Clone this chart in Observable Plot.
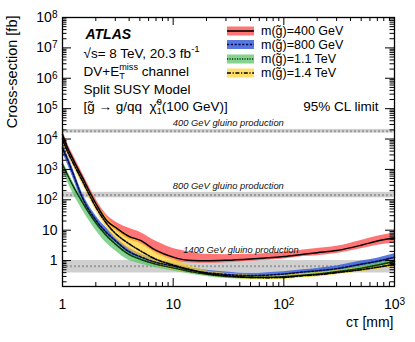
<!DOCTYPE html>
<html><head><meta charset="utf-8">
<script src="https://cdn.jsdelivr.net/npm/d3@7"></script>
<script src="https://cdn.jsdelivr.net/npm/@observablehq/plot@0.6"></script>
<style>body{margin:0;background:#fff} svg{display:block}</style>
</head><body><div id="chart"></div>
<script>
// ---- data ----
const ctValues = [1, 1.1, 1.25, 1.5, 2, 2.5, 3, 4, 5, 7, 10, 15, 20, 30, 50, 70, 100, 150, 200, 300, 500, 700, 1000];

const m400   = [14000, 5600, 2100, 575, 76, 21, 12.5, 6.2, 4.7, 2.15, 1.3, 1.0, 0.98, 1.02, 1.13, 1.23, 1.35, 1.62, 1.82, 2.14, 3.2, 4.4, 5.5];
const m400hi = [20000, 7900, 3000, 810, 107, 32, 19, 11.5, 8.6, 4.3, 2.5, 1.85, 1.6, 1.55, 1.6, 1.7, 1.86, 2.24, 2.5, 2.95, 4.6, 6.3, 7.9];
const m400lo = [10000, 4000, 1600, 460, 60, 17, 10, 4.9, 3.7, 1.7, 1.03, 0.83, 0.81, 0.85, 0.94, 1.02, 1.12, 1.35, 1.45, 1.7, 2.45, 3.2, 3.8];

const m800   = [5000, 2300, 710, 126, 21.4, 8.3, 4.5, 1.95, 1.35, 0.87, 0.66, 0.47, 0.40, 0.35, 0.32, 0.33, 0.36, 0.42, 0.46, 0.54, 0.76, 0.95, 1.29];
const m800hi = [7000, 3250, 1000, 178, 30, 11.7, 6.0, 2.6, 1.7, 1.1, 0.79, 0.56, 0.48, 0.42, 0.38, 0.40, 0.43, 0.50, 0.55, 0.66, 0.96, 1.2, 1.66];
const m800lo = [3550, 1630, 500, 89, 15, 5.9, 3.4, 1.47, 1.07, 0.69, 0.55, 0.39, 0.33, 0.29, 0.27, 0.27, 0.30, 0.35, 0.38, 0.44, 0.60, 0.75, 1.0];

const m1100   = [1450, 710, 280, 87, 17.8, 6.6, 3.5, 1.58, 1.12, 0.76, 0.575, 0.42, 0.355, 0.30, 0.28, 0.28, 0.295, 0.33, 0.36, 0.43, 0.56, 0.71, 0.93];
const m1100hi = [1910, 940, 370, 115, 23.5, 8.7, 4.6, 1.99, 1.41, 0.96, 0.69, 0.49, 0.42, 0.35, 0.33, 0.33, 0.35, 0.39, 0.42, 0.505, 0.67, 0.85, 1.12];
const m1100lo = [915, 427, 157, 49, 10, 3.7, 2.1, 1.0, 0.79, 0.58, 0.456, 0.35, 0.30, 0.255, 0.24, 0.24, 0.25, 0.28, 0.31, 0.365, 0.47, 0.59, 0.78];

const m1400   = [10000, 4200, 1600, 440, 57.5, 16.6, 7.9, 3.55, 2.14, 1.1, 0.71, 0.48, 0.38, 0.32, 0.28, 0.275, 0.28, 0.32, 0.34, 0.40, 0.50, 0.60, 0.76];
const m1400hi = [13200, 5500, 2100, 620, 87, 27.5, 14, 6.8, 4.1, 1.96, 1.12, 0.63, 0.46, 0.38, 0.33, 0.32, 0.33, 0.38, 0.40, 0.47, 0.59, 0.70, 0.91];
const m1400lo = [7600, 3200, 1200, 335, 43.5, 11.7, 5.2, 2.24, 1.35, 0.69, 0.50, 0.38, 0.32, 0.27, 0.24, 0.235, 0.24, 0.27, 0.29, 0.34, 0.43, 0.51, 0.63];

const seriesNames  = ["400", "800", "1100", "1400"];
const seriesLabels = ["m(g\u0303)=400 GeV", "m(g\u0303)=800 GeV", "m(g\u0303)=1.1 TeV", "m(g\u0303)=1.4 TeV"];

// gluino production cross-sections (grey bands)
const prodLabels = ["400 GeV gluino production", "800 GeV gluino production", "1400 GeV gluino production"];
const prodXsec = [18000, 143, 0.65];
const prodLo   = [15700, 116, 0.39];
const prodHi   = [20700, 176, 1.0];

const xTicks = [1, 10, 100, 1000];
const yTicks = [1, 10, 1e2, 1e3, 1e4, 1e5, 1e6, 1e7, 1e8];
const xDomain = [1, 1000];
const yDomain = [0.14, 1e8];

// ---- styles ----
const bandFill   = ["#ff5c5c", "#3a5fdc", "#5cc46a", "#ffcc1a"];
const bandOpac   = [0.85, 0.85, 0.75, 0.65];
const lineStroke = ["#000000", "#0a0a50", "#0a3a0a", "#000000"];
const lineDash   = [null, "2.2,1.6", "1.2,1.3", "4,1.6,1.2,1.6"];

const seriesArrays = {
  "400": [m400, m400lo, m400hi], "800": [m800, m800lo, m800hi],
  "1100": [m1100, m1100lo, m1100hi], "1400": [m1400, m1400lo, m1400hi]
};
const rows = seriesNames.map(name => ctValues.map((ct, i) => ({
  mass: name, ct, mid: seriesArrays[name][0][i], lo: seriesArrays[name][1][i], hi: seriesArrays[name][2][i]
})));
const prod = prodLabels.map((label, i) => ({label, xsec: prodXsec[i], lo: prodLo[i], hi: prodHi[i]}));

const W = 415, H = 342, mL = 62, mR = 21, mT = 17, mB = 56;
const fw = W - mL - mR, fh = H - mT - mB;
const FONT = "Liberation Sans, Arial, Helvetica, sans-serif";
const AFS = 13.5; // annotation font size

const allY = d3.scaleLog().domain(yDomain).ticks();
const minorY = allY.filter(v => !yTicks.some(t => Math.abs(t - v) / t < 1e-6));
const allX = d3.scaleLog().domain(xDomain).ticks();
const minorX = allX.filter(v => !xTicks.some(t => Math.abs(t - v) / t < 1e-6));

const fmtPow = d => { const e = Math.round(Math.log10(d)); return e === 0 ? "1" : e === 1 ? "10" : "10^" + e; };

const marks = [];
// grey production bands
marks.push(Plot.rect(prod, {x1: () => xDomain[0], x2: () => xDomain[1], y1: "lo", y2: "hi", fill: "#cfcfcf"}));
marks.push(Plot.ruleY(prod, {y: "xsec", stroke: "#9a9a9a", strokeWidth: 2.2, strokeDasharray: "2,2"}));
// uncertainty bands
rows.forEach((r, i) => marks.push(Plot.areaY(r, {x: "ct", y1: "lo", y2: "hi", fill: bandFill[i], fillOpacity: bandOpac[i], curve: "monotone-x"})));
// central lines
rows.forEach((r, i) => marks.push(Plot.line(r, {x: "ct", y: "mid", stroke: lineStroke[i], strokeWidth: i === 0 ? 1.5 : 1.6, strokeDasharray: lineDash[i], curve: "monotone-x"})));
// band labels
const labelStyle = {fontFamily: FONT, fontStyle: "italic", fontSize: 9.4, textAnchor: "middle", lineAnchor: "bottom", fill: "#111"};
marks.push(Plot.text([prod[0]], {x: () => 31.5, y: "xsec", text: "label", dy: -5.5, ...labelStyle}));
marks.push(Plot.text([prod[1]], {x: () => 31.5, y: "xsec", text: "label", dy: -6.5, ...labelStyle}));
marks.push(Plot.text([prod[2]], {x: () => 41, y: "xsec", text: "label", dy: -13.5, ...labelStyle, fontSize: 9.3}));
// ticks (inward, ROOT style)
marks.push(Plot.tickY(yTicks, {y: d => d, insetRight: fw - 9, stroke: "black"}));
marks.push(Plot.tickY(yTicks, {y: d => d, insetLeft: fw - 9, stroke: "black"}));
marks.push(Plot.tickY(minorY, {y: d => d, insetRight: fw - 4.5, stroke: "black"}));
marks.push(Plot.tickY(minorY, {y: d => d, insetLeft: fw - 4.5, stroke: "black"}));
marks.push(Plot.tickX(xTicks, {x: d => d, insetTop: fh - 8, stroke: "black"}));
marks.push(Plot.tickX(xTicks, {x: d => d, insetBottom: fh - 8, stroke: "black"}));
marks.push(Plot.tickX(minorX, {x: d => d, insetTop: fh - 4, stroke: "black"}));
marks.push(Plot.tickX(minorX, {x: d => d, insetBottom: fh - 4, stroke: "black"}));
marks.push(Plot.frame({stroke: "black", strokeWidth: 1.3}));
// axes
marks.push(Plot.axisX(xTicks, {tickSize: 0, tickPadding: 13, tickFormat: fmtPow, fontSize: 14, label: null, fill: "black"}));
marks.push(Plot.axisY(yTicks, {tickSize: 0, tickPadding: 5, tickFormat: fmtPow, fontSize: 14, label: null, fill: "black"}));
marks.push(Plot.text(["c\u03c4 [mm]"], {frameAnchor: "bottom-right", dx: -1, dy: 40, textAnchor: "end", lineAnchor: "bottom", fontSize: 14, fontFamily: FONT}));
marks.push(Plot.text(["Cross-section [fb]"], {frameAnchor: "top-left", dx: -50, dy: -2, rotate: -90, textAnchor: "end", lineAnchor: "middle", fontSize: 14.5, fontFamily: FONT}));
// annotations
const ann = {frameAnchor: "top-left", textAnchor: "start", lineAnchor: "bottom", fontFamily: FONT, fontSize: AFS};
marks.push(Plot.text(["ATLAS"], {...ann, dx: 23, dy: 21, fontWeight: "bold", fontStyle: "italic", fontSize: 14}));
marks.push(Plot.text(["SQRTS"], {...ann, dx: 21, dy: 40}));
marks.push(Plot.text(["DVMET"], {...ann, dx: 21, dy: 58}));
marks.push(Plot.text(["Split SUSY Model"], {...ann, dx: 21, dy: 76}));
marks.push(Plot.text(["DECAY"], {...ann, dx: 21, dy: 93}));
marks.push(Plot.text(["95% CL limit"], {...ann, frameAnchor: "top-right", textAnchor: "end", dx: -16, dy: 93}));

const plot = Plot.plot({
  width: W, height: H,
  marginLeft: mL, marginRight: mR, marginTop: mT, marginBottom: mB,
  style: {fontFamily: FONT, background: "white", color: "black"},
  x: {type: "log", domain: xDomain},
  y: {type: "log", domain: yDomain},
  marks
});
document.getElementById("chart").appendChild(plot);

// ---- rich text post-processing ----
const svg = d3.select(plot);
svg.selectAll("text").each(function() {
  const el = d3.select(this);
  const t = this.textContent;
  const m = /^10\^(\d+)$/.exec(t);
  if (m) {
    el.text("10");
    el.append("tspan").attr("dy", "-0.42em").attr("font-size", "0.72em").text(m[1]);
  }
});
function rich(key, build) {
  svg.selectAll("text").filter(function() { return this.textContent === key; }).each(function() {
    const el = d3.select(this); el.text(""); build(el, AFS);
  });
}
rich("SQRTS", (el, fs) => {
  el.append("tspan").text("\u221as= 8 TeV, 20.3 fb");
  el.append("tspan").attr("dy", -0.42 * fs).attr("font-size", 0.72 * fs).text("-1");
});
rich("DVMET", (el, fs) => {
  el.append("tspan").text("DV+E");
  const sub = el.append("tspan").attr("dy", 0.28 * fs).attr("font-size", 0.68 * fs).text("T");
  const w = sub.node().getComputedTextLength();
  el.append("tspan").attr("dx", -w).attr("dy", -0.72 * fs).attr("font-size", 0.68 * fs).text("miss");
  el.append("tspan").attr("dy", 0.44 * fs).text(" channel");
});
rich("DECAY", (el, fs) => {
  el.append("tspan").text("[g\u0303 \u2192 g/qq  \u03c7\u0303");
  const sub = el.append("tspan").attr("dy", 0.28 * fs).attr("font-size", 0.68 * fs).text("1");
  const w = sub.node().getComputedTextLength();
  el.append("tspan").attr("dx", -w).attr("dy", -0.72 * fs).attr("font-size", 0.68 * fs).text("0");
  el.append("tspan").attr("dy", 0.44 * fs).text("(100 GeV)]");
});

// ---- legend ----
const legRowY = [31, 44.5, 59, 73];
const leg = svg.append("g").attr("font-family", FONT).attr("font-size", 12.5).attr("text-anchor", "start");
seriesLabels.forEach((lab, i) => {
  const y = legRowY[i];
  leg.append("rect").attr("x", 227).attr("y", y - 4.5).attr("width", 27).attr("height", 9)
    .attr("fill", bandFill[i]).attr("fill-opacity", bandOpac[i]);
  leg.append("line").attr("x1", 227).attr("x2", 254).attr("y1", y).attr("y2", y)
    .attr("stroke", lineStroke[i]).attr("stroke-width", 1.6).attr("stroke-dasharray", lineDash[i]);
  leg.append("text").attr("x", 261).attr("y", y + 4.4).attr("text-anchor", "start").attr("fill", "black").text(lab);
});
</script>
</body></html>
